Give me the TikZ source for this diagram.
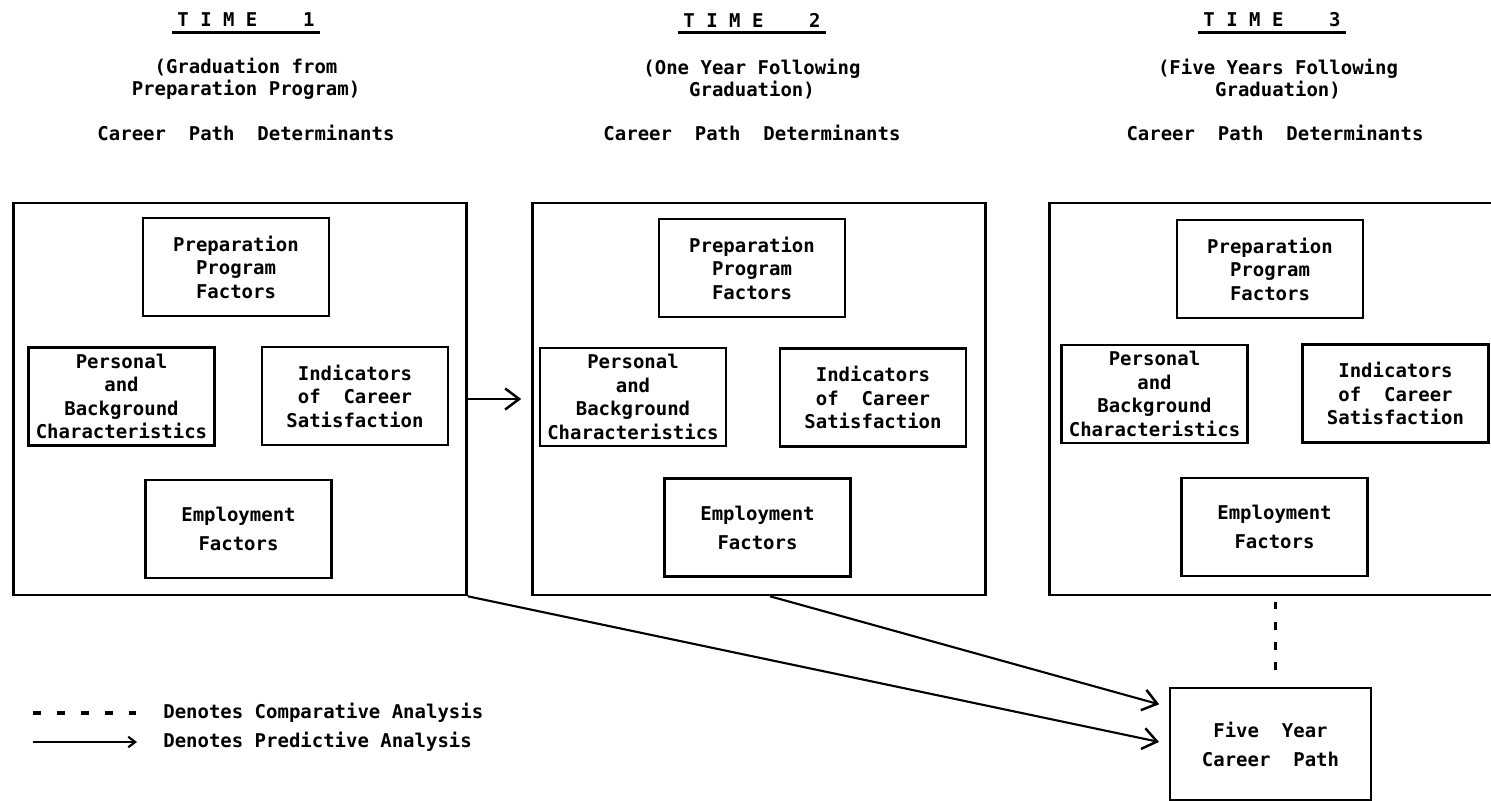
\documentclass[tikz,border=0pt]{standalone}
\usepackage{fontspec}
\setmonofont{DejaVu Sans Mono}
\usetikzlibrary{arrows.meta, positioning}
\tikzset{
  head/.style={font=\ttfamily\bfseries\fontsize{10.8}{12.6}\selectfont, align=center, inner xsep=3pt, inner ysep=1pt},
  key/.style={font=\ttfamily\bfseries\fontsize{10.8}{12.6}\selectfont, inner sep=0pt},
  frame/.style={rectangle, draw, line width=1.5pt, minimum width=9.06cm, minimum height=7.84cm, inner sep=0pt},
  factor/.style={rectangle, draw, line width=1.4pt, minimum width=3.72cm, minimum height=1.96cm, align=center, inner sep=0pt,
    font=\ttfamily\bfseries\fontsize{10.8}{13.4}\selectfont},
  spaced/.style={font=\ttfamily\bfseries\fontsize{10.8}{16.5}\selectfont},
  predict/.style={line width=1.2pt, -{Straight Barb[length=8pt, width=12pt, line width=1.4pt]}},
  compare/.style={line width=2pt, dash pattern=on 4.5pt off 7pt}
}

\begin{document}
\begin{tikzpicture}[x=0.02cm, y=-0.02cm]
  \useasboundingbox (0,0) rectangle (1491,801);
  \clip (0,0) rectangle (1491,801);

  % headings
  \node[head] (time1) at (246,20) {T~I~M~E~~~~1};
  \node[head] (when1) at (246,79) {(Graduation from\\Preparation Program)};
  \node[head] (det1) at (246,133) {Career~~Path~~Determinants};
  \node[head] (time2) at (752,20) {T~I~M~E~~~~2};
  \node[head] (when2) at (752,79) {(One Year Following\\Graduation)};
  \node[head] (det2) at (752,133) {Career~~Path~~Determinants};
  \node[head] (time3) at (1272,20) {T~I~M~E~~~~3};
  \node[head] (when3) at (1278,79) {(Five Years Following\\Graduation)};
  \node[head] (det3) at (1275,133) {Career~~Path~~Determinants};
  \foreach \t in {time1, time2, time3}
    \draw[line width=1.5pt] ([yshift=-1.8pt]\t.south west) -- ([yshift=-1.8pt]\t.south east);

  % time 1
  \node[frame] (frame1) at (240,399) {};
  \node[factor] (prep1) at (236,267) {Preparation\\Program\\Factors};
  \node[factor] (pers1) at (121.5,396.5) {Personal\\and\\Background\\Characteristics};
  \node[factor] (sat1) at (355,396) {Indicators\\of~~Career\\Satisfaction};
  \node[factor, spaced] (emp1) at (238.5,529) {Employment\\Factors};

  % time 2
  \node[frame] (frame2) at (759,399) {};
  \node[factor] (prep2) at (752,268) {Preparation\\Program\\Factors};
  \node[factor] (pers2) at (633,397) {Personal\\and\\Background\\Characteristics};
  \node[factor] (sat2) at (873,397.5) {Indicators\\of~~Career\\Satisfaction};
  \node[factor, spaced] (emp2) at (757.5,527.5) {Employment\\Factors};

  % time 3
  \node[frame] (frame3) at (1276,399) {};
  \node[factor] (prep3) at (1270,269) {Preparation\\Program\\Factors};
  \node[factor] (pers3) at (1154.5,394) {Personal\\and\\Background\\Characteristics};
  \node[factor] (sat3) at (1395.5,393.5) {Indicators\\of~~Career\\Satisfaction};
  \node[factor, spaced] (emp3) at (1274.5,527) {Employment\\Factors};

  % outcome
  \node[factor, spaced, minimum width=4.02cm, minimum height=2.24cm] (five) at (1270.5,744) {Five~~Year\\Career~~Path};

  \draw[predict, shorten >=5.7pt] (frame1.east) -- (frame2.west);
  \draw[predict, shorten >=5.7pt] (frame1.south east) -- (five.west);
  \draw[predict, shorten >=5.7pt] ([xshift=0.22cm]frame2.south) -- ([yshift=0.74cm]five.west);
  \draw[compare, shorten <=3pt, shorten >=4.5pt] ([xshift=0.1cm]five.north |- frame3.south) -- ([xshift=0.1cm]five.north);

  % legend
  \coordinate (keyA) at (33,713);
  \coordinate (keyB) at (137,713);
  \coordinate (keyC) at (33,742);
  \coordinate (keyD) at (137,742);
  \draw[compare, dash pattern=on 4.5pt off 9.1pt] (keyA) -- (keyB);
  \node[key, right=0.52cm of keyB] (cmptext) {Denotes Comparative Analysis};
  \draw[line width=1.2pt, -{Straight Barb[length=4pt, width=6pt, line width=1.2pt]}] (keyC) -- (keyD);
  \node[key, right=0.52cm of keyD] (predtext) {Denotes Predictive Analysis};
\end{tikzpicture}
\end{document}
